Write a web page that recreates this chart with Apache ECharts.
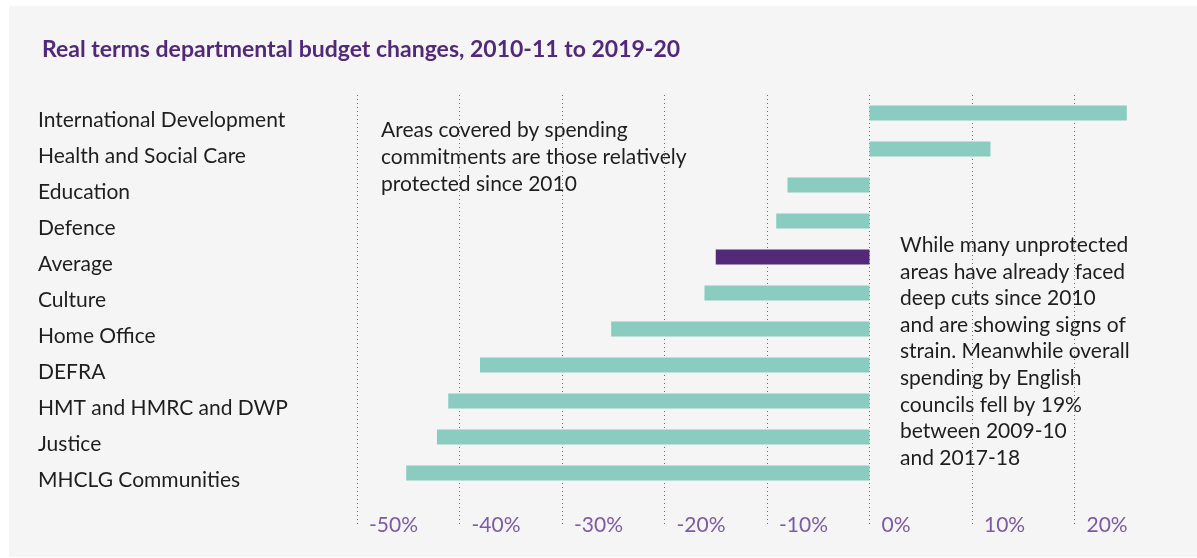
<!DOCTYPE html>
<html lang="en">
<head>
    <meta charset="UTF-8">
    <title>Departmental budget changes</title>
    <script src="https://cdn.jsdelivr.net/npm/echarts@6/dist/echarts.min.js"></script>
    <style type="text/css">
        html, body {
            height: 100%;
            margin: 0;
            background-color: #ffffff;
        }
        #chart {
            width: 1197px;
            height: 558px;
        }
    </style>
</head>
<body>
    <div id="chart"></div>
    <script type="text/javascript">
        // departments, top to bottom
        var departments = ['International Development', 'Health and Social Care', 'Education', 'Defence',
            'Average', 'Culture', 'Home Office', 'DEFRA', 'HMT and HMRC and DWP', 'Justice', 'MHCLG Communities'];
        // real terms change, %
        var changes = [25.1, 11.8, -8.0, -9.1, -15.0, -16.1, -25.2, -38.0, -41.1, -42.2, -45.2];
        var highlight = 'Average';

        var noteLeft = 'Areas covered by spending\ncommitments are those relatively\nprotected since 2010';
        var noteRight = 'While many unprotected\nareas have already faced\ndeep cuts since 2010\nand are showing signs of\nstrain. Meanwhile overall\nspending by English\ncouncils fell by 19%\nbetween 2009-10\nand 2017-18';

        var chart = echarts.init(document.getElementById('chart'));

        // one empty slot under the last bar so the dotted grid runs down to the tick labels
        var yData = departments.concat(['']);
        var barData = changes.map(function (v, i) {
            return {
                value: v,
                itemStyle: { color: departments[i] === highlight ? '#522a78' : '#8accc0' }
            };
        });

        var option = {
            backgroundColor: '#ffffff',
            animation: false,
            textStyle: { fontFamily: 'Lato' },
            title: {
                text: 'Real terms departmental budget changes, 2010-11 to 2019-20',
                left: 37,
                top: 33,
                textStyle: {
                    fontFamily: 'Lato',
                    fontSize: 23,
                    fontWeight: 'bold',
                    color: '#52297a'
                }
            },
            graphic: [
                {
                    type: 'rect', z: -10, silent: true,
                    shape: { x: 9, y: 6, width: 1188, height: 551 },
                    style: { fill: '#f5f5f5' }
                },
                {
                    type: 'text', left: 381, top: 117,
                    style: { text: noteLeft, font: '21px Lato', fill: '#1e1e1e', lineHeight: 27 }
                },
                {
                    type: 'text', left: 900, top: 232,
                    style: { text: noteRight, font: '21px Lato', fill: '#1e1e1e', lineHeight: 26.6 }
                }
            ],
            grid: {
                left: 357,
                right: 20,
                top: 95,
                height: 432
            },
            xAxis: {
                type: 'value',
                min: -50,
                max: 30,
                interval: 10,
                axisLine: { show: false },
                axisTick: { show: false },
                splitLine: {
                    show: true,
                    showMaxLine: false,
                    lineStyle: { color: '#7b5aa6', type: [1, 3], width: 1 }
                },
                axisLabel: {
                    showMaxLabel: false,
                    align: 'left',
                    verticalAlign: 'middle',
                    margin: -2,
                    padding: [0, 0, 0, 12],
                    fontFamily: 'Lato',
                    fontSize: 21,
                    color: '#7b5aa6',
                    formatter: '{value}%'
                }
            },
            yAxis: {
                type: 'category',
                inverse: true,
                data: yData,
                axisLine: { show: false },
                axisTick: { show: false },
                axisLabel: {
                    align: 'left',
                    verticalAlign: 'top',
                    lineHeight: 14,
                    margin: 319,
                    fontFamily: 'Lato',
                    fontSize: 21,
                    color: '#1e1e1e'
                }
            },
            series: [
                {
                    type: 'bar',
                    data: barData,
                    barWidth: 15
                }
            ]
        };

        chart.setOption(option);
    </script>
</body>
</html>
